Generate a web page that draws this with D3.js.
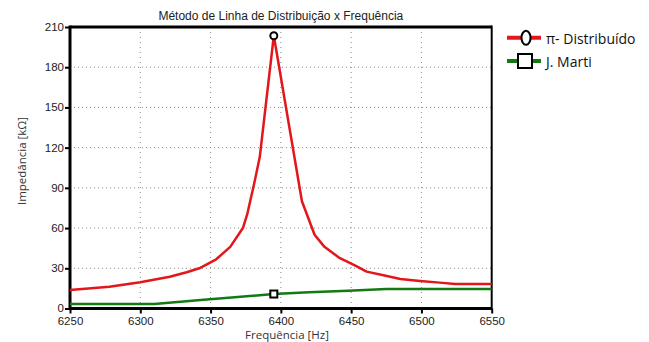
<!DOCTYPE html>
<html>
<head>
<meta charset="utf-8">
<script src="https://cdn.jsdelivr.net/npm/d3@7"></script>
<style>
html,body{margin:0;padding:0;background:#fff;}
svg{display:block;}
</style>
</head>
<body>
<svg id="chart" width="649" height="342"></svg>
<script>
const titleText = "Método de Linha de Distribuição x Frequência";
const xLabel = "Frequência [Hz]";
const yLabel = "Impedância [kΩ]";
const seriesNames = ["π- Distribuído", "J. Marti"];
const xTicks = [6250, 6300, 6350, 6400, 6450, 6500, 6550];
const yTicks = [0, 30, 60, 90, 120, 150, 180, 210];

const freqPi = [6250, 6278, 6300, 6321, 6333, 6342, 6354, 6364, 6373, 6376, 6381, 6385, 6395, 6415, 6424, 6431, 6442, 6453, 6461, 6473, 6485, 6499, 6513, 6524, 6550];
const impPi  = [13.8, 16.3, 19.6, 23.7, 27.0, 30.0, 36.7, 46.0, 60.0, 70.0, 93.0, 113.0, 203.5, 80.0, 55.0, 46.0, 37.5, 32.0, 27.5, 24.8, 22.0, 20.5, 19.3, 18.3, 18.3];

const freqJM = [6250, 6310, 6343, 6395, 6420, 6448, 6475, 6550];
const impJM  = [3.4, 3.4, 6.3, 10.8, 12.2, 13.3, 14.5, 14.5];

const markerPi = {f: 6395, v: 203.5};
const markerJM = {f: 6395, v: 10.8};

const svg = d3.select("#chart");
const L = 70, R = 491.7, T = 27, B = 308.5;
const x = d3.scaleLinear().domain([6250, 6550]).range([L, R]);
const y = d3.scaleLinear().domain([0, 210]).range([B, T]);

const narrow = "'Liberation Sans Narrow','Arial Narrow','Liberation Sans',Arial,sans-serif";
const ui = "'Open Sans','Noto Sans','DejaVu Sans',sans-serif";

// grid
svg.append("g").selectAll("line").data(xTicks.slice(1, -1)).join("line")
  .attr("x1", d => x(d)).attr("x2", d => x(d)).attr("y1", T).attr("y2", B)
  .attr("stroke", "#8a8a8a").attr("stroke-width", 1).attr("stroke-dasharray", "1,4");
svg.append("g").selectAll("line").data(yTicks.slice(1, -1)).join("line")
  .attr("x1", L).attr("x2", R).attr("y1", d => y(d)).attr("y2", d => y(d))
  .attr("stroke", "#8a8a8a").attr("stroke-width", 1).attr("stroke-dasharray", "1,3");

// axes
const xAxis = d3.axisBottom(x).tickValues(xTicks).tickSize(5).tickFormat(d3.format("d"));
const yAxis = d3.axisLeft(y).tickValues(yTicks).tickSize(5).tickFormat(d3.format("d"));
const gx = svg.append("g").attr("transform", `translate(0,${B})`).call(xAxis);
const gy = svg.append("g").attr("transform", `translate(${L},0)`).call(yAxis);
[gx, gy].forEach(g => {
  g.select(".domain").remove();
  g.selectAll(".tick line").attr("stroke", "#000").attr("stroke-width", 2);
  g.selectAll(".tick text").attr("fill", "#222").style("font-family", narrow).style("font-size", "11.5px");
});
gx.selectAll(".tick text").attr("dy", "0").attr("y", 16.5);
gy.selectAll(".tick text").attr("x", -6).attr("dy", "0.3em");

// frame
svg.append("line").attr("x1", L).attr("x2", R).attr("y1", T).attr("y2", T).attr("stroke", "#000").attr("stroke-width", 3);
svg.append("line").attr("x1", L).attr("x2", R).attr("y1", B).attr("y2", B).attr("stroke", "#000").attr("stroke-width", 3);
svg.append("line").attr("x1", L).attr("x2", L).attr("y1", T - 1.5).attr("y2", B + 1.5).attr("stroke", "#000").attr("stroke-width", 3);
svg.append("line").attr("x1", R).attr("x2", R).attr("y1", T - 1.5).attr("y2", B + 1.5).attr("stroke", "#000").attr("stroke-width", 2);

// lines
const line = d3.line().x(d => x(d[0])).y(d => y(d[1]));
svg.append("path").datum(d3.zip(freqJM, impJM)).attr("d", line)
  .attr("fill", "none").attr("stroke", "#137a13").attr("stroke-width", 2.5);
svg.append("path").datum(d3.zip(freqPi, impPi)).attr("d", line)
  .attr("fill", "none").attr("stroke", "#e3161b").attr("stroke-width", 2.5).attr("stroke-linejoin", "round");

// markers
svg.append("circle").attr("cx", x(markerPi.f)).attr("cy", y(markerPi.v)).attr("r", 3.5)
  .attr("fill", "#fff").attr("stroke", "#000").attr("stroke-width", 2);
svg.append("rect").attr("x", x(markerJM.f) - 3.5).attr("y", y(markerJM.v) - 3.5).attr("width", 7).attr("height", 7)
  .attr("fill", "#fff").attr("stroke", "#000").attr("stroke-width", 2);

// title & labels
svg.append("text").attr("x", (L + R) / 2).attr("y", 20).attr("text-anchor", "middle")
  .style("font-family", narrow).style("font-size", "12px").attr("fill", "#222").text(titleText);
svg.append("text").attr("x", 287).attr("y", 339).attr("text-anchor", "middle")
  .style("font-family", ui).style("font-size", "11.5px").attr("fill", "#333").text(xLabel);
svg.append("text").attr("transform", "translate(26,161) rotate(-90)").attr("text-anchor", "middle")
  .style("font-family", ui).style("font-size", "11.5px").attr("fill", "#333").text(yLabel);

// legend
const legColors = ["#e3161b", "#137a13"];
const legY = [37.8, 61];
legColors.forEach((c, i) => {
  svg.append("line").attr("x1", 507).attr("x2", 541).attr("y1", legY[i]).attr("y2", legY[i])
    .attr("stroke", c).attr("stroke-width", 4);
  svg.append("text").attr("x", 546).attr("y", legY[i] + 6).style("font-family", ui)
    .style("font-size", "14px").attr("fill", "#111").text(seriesNames[i]);
});
svg.append("ellipse").attr("cx", 526).attr("cy", legY[0]).attr("rx", 4.5).attr("ry", 7)
  .attr("fill", "#fff").attr("stroke", "#000").attr("stroke-width", 2);
svg.append("rect").attr("x", 518).attr("y", legY[1] - 7).attr("width", 14).attr("height", 14)
  .attr("fill", "#fff").attr("stroke", "#000").attr("stroke-width", 2);
</script>
</body>
</html>
